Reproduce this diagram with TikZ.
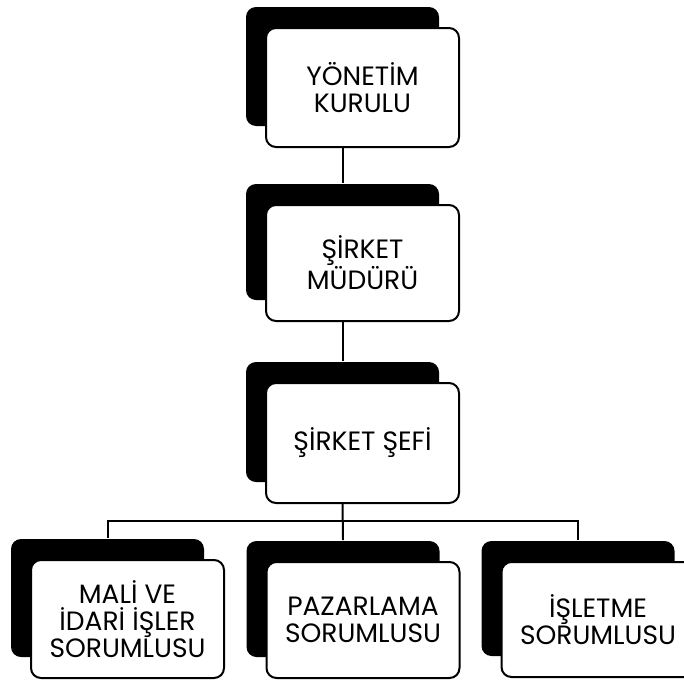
\documentclass[tikz,border=0pt]{standalone}
\usepackage{fontspec}
\setmainfont{Poppins}
\usetikzlibrary{shadows}
\tikzset{
  orgbox/.style={draw, line width=2pt, rounded corners=10pt, fill=white,
    minimum width=193pt, align=center, inner sep=0pt,
    font=\fontsize{26.5}{27}\selectfont,
    general shadow={fill=black, shadow xshift=-20pt, shadow yshift=21pt}},
  link/.style={line width=2pt}
}
\begin{document}
\begin{tikzpicture}[x=1pt,y=-1pt]
\useasboundingbox (0,0) rectangle (684,680);
\node[orgbox, minimum height=119pt] (a) at (362.5,87.5) {YÖNETİM\\KURULU};
\node[orgbox, minimum height=116pt] (b) at (362.5,263) {ŞİRKET\\MÜDÜRÜ};
\node[orgbox, minimum height=120pt] (c) at (362.5,443) {ŞİRKET ŞEFİ};
\node[orgbox, minimum height=118pt] (d) at (127.5,619) {MALİ VE\\İDARİ İŞLER\\SORUMLUSU};
\node[orgbox, minimum height=116pt] (e) at (363,620) {PAZARLAMA\\SORUMLUSU};
\node[orgbox, minimum height=115pt] (f) at (598,619.5) {İŞLETME\\SORUMLUSU};
\coordinate (bus) at (0,521);
\coordinate (bt) at ([xshift=-20pt,yshift=21pt]b.north);
\coordinate (ct) at ([xshift=-20pt,yshift=21pt]c.north);
\coordinate (dt) at ([xshift=-20pt,yshift=21pt]d.north);
\coordinate (et) at ([xshift=-20pt,yshift=21pt]e.north);
\coordinate (ft) at ([xshift=-20pt,yshift=21pt]f.north);
\draw[link] ([xshift=-20pt]a.south) -- (bt);
\draw[link] ([xshift=-20pt]b.south) -- (ct);
\draw[link] ([xshift=-20pt]c.south) -- (et);
\draw[link] (dt) -- (dt |- bus) -- (ft |- bus) -- (ft);
\end{tikzpicture}
\end{document}
